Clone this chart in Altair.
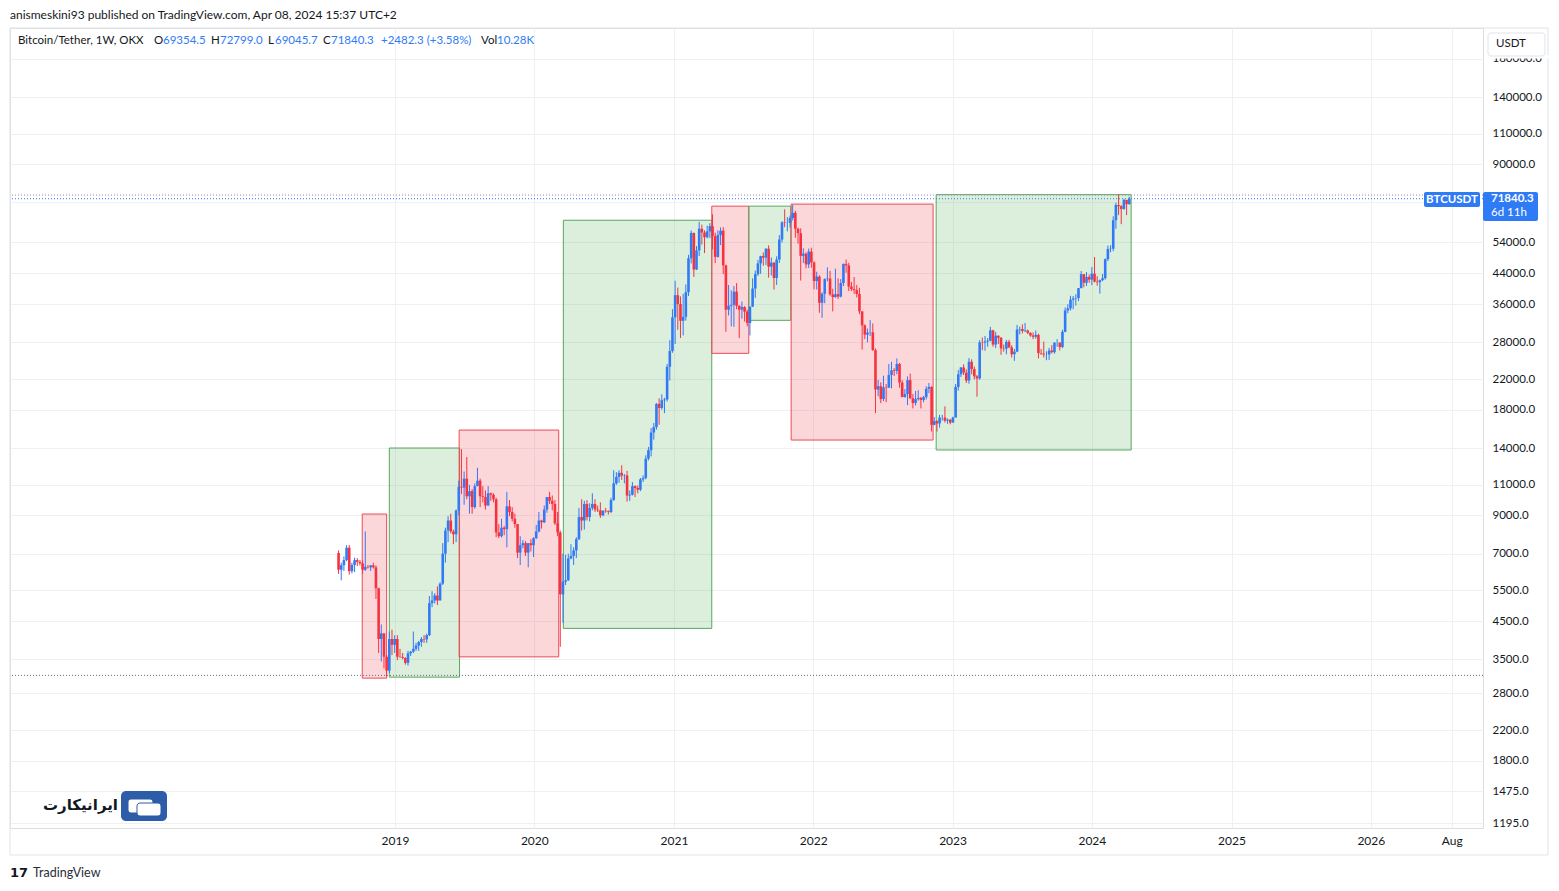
import altair as alt
import pandas as pd
import numpy as np

FONT = "Lato"
UP = "#3179f5"
DOWN = "#f7323f"
INK = "#131722"

# ---------------- weekly candles (Bitcoin/Tether, 1W, OKX) ----------------
first_week = "2018-08-06"
first_open = 7030

closes_2018 = [6300, 6490, 6710, 7280, 6240, 6500, 6710, 6630, 6570, 6300, 6420, 6400, 6480, 6400, 5580, 4000, 4150, 3560, 3250, 4000, 3850, 4000]
highs_2018 = [7150, 6600, 6880, 7400, 7410, 6600, 6820, 6800, 6720, 6700, 8100, 6500, 6500, 6600, 6480, 5600, 4400, 4150, 3600, 4200, 4250, 4100]
lows_2018 = [6130, 5880, 6250, 6660, 6100, 6150, 6200, 6450, 6480, 6130, 6250, 6350, 6250, 6350, 5200, 3650, 3450, 3300, 3130, 3200, 3600, 3650]

closes_2019 = [3560, 3550, 3530, 3420, 3640, 3680, 3750, 3830, 3920, 4000, 3990, 4100, 5060, 5150, 5320, 5150, 5750, 7000, 8150, 8700, 8100, 7950, 9300, 10850, 10800, 11450, 10200, 10550, 9500, 10900, 11300, 10200, 10150, 9600, 10400, 10300, 10000, 8050, 7850, 8300, 8220, 9550, 9200, 8800, 8500, 7050, 7400, 7500, 7050, 7500, 7400, 7750]
highs_2019 = [4100, 3750, 3650, 3550, 3700, 3700, 4200, 3900, 3950, 4050, 4100, 4140, 5300, 5470, 5400, 5650, 5800, 7500, 8300, 8950, 9100, 8200, 9350, 11300, 13900, 12000, 13200, 11000, 10700, 11100, 12300, 11450, 10900, 10600, 10900, 10450, 10400, 10100, 8500, 8800, 8400, 10500, 9950, 9500, 9100, 8500, 7850, 7650, 7600, 7500, 7700, 7800]
lows_2019 = [3480, 3540, 3500, 3380, 3360, 3580, 3650, 3700, 3700, 3800, 3900, 3900, 4080, 4930, 5050, 5000, 5150, 5700, 6600, 7550, 8000, 7450, 7550, 9000, 10350, 9650, 10000, 9100, 9100, 9400, 10900, 9500, 9800, 9350, 9600, 9900, 9800, 7800, 7750, 7780, 7900, 7300, 8950, 8650, 8300, 6800, 6500, 7250, 6900, 6400, 7100, 6850]

closes_2020 = [8100, 8700, 8600, 9350, 10150, 9900, 9700, 8550, 8050, 5360, 5820, 5880, 6780, 6900, 7150, 7700, 8900, 8700, 9700, 8900, 9450, 9700, 9350, 9300, 9000, 9280, 9250, 9200, 9950, 11100, 11580, 11900, 11680, 11700, 10250, 10300, 10900, 10770, 10650, 11400, 11500, 13050, 13800, 15500, 16050, 18700, 18200, 19150, 19250, 23850, 26450, 33000]
highs_2020 = [8450, 9200, 8750, 9600, 10150, 10500, 10250, 9950, 9200, 8150, 7000, 6950, 7000, 7450, 7300, 7800, 9450, 10000, 9900, 9950, 9750, 10400, 10000, 9600, 9800, 9300, 9450, 9300, 10100, 12100, 11950, 12100, 12500, 11800, 12050, 10600, 11200, 10950, 10950, 11500, 11700, 13350, 14100, 15950, 16500, 18800, 19400, 19900, 19450, 24300, 28400, 34800]
lows_2020 = [7700, 8050, 8250, 8550, 9150, 9700, 9300, 8450, 7850, 3800, 4450, 5700, 5850, 6750, 6500, 6800, 7650, 8150, 8200, 8700, 8650, 9300, 9200, 9200, 8850, 8950, 9150, 9050, 9130, 9900, 11000, 11150, 11350, 11100, 9850, 9900, 10250, 10150, 10400, 10550, 11200, 11400, 12900, 13250, 14800, 15800, 16300, 18000, 17600, 19000, 21800, 26150]

closes_2021 = [38150, 36000, 32250, 33100, 38900, 48600, 57400, 45150, 51200, 59000, 57550, 55800, 58000, 60000, 56200, 49050, 56600, 58250, 46400, 34700, 35600, 35800, 39050, 35600, 34700, 35300, 34250, 31800, 35400, 39850, 43800, 47000, 49300, 48800, 51750, 46000, 47250, 42700, 48200, 54950, 61500, 61300, 61300, 63300, 65500, 59000, 57300, 49400, 50100, 46700, 50800, 47300]
highs_2021 = [41950, 40100, 37850, 38500, 40950, 49700, 58300, 57500, 52650, 61700, 60600, 58400, 60200, 61200, 64850, 57500, 58400, 59500, 59600, 46600, 40800, 39400, 40500, 41300, 35700, 36600, 35500, 34700, 35400, 42600, 44800, 48100, 49400, 50500, 51900, 52900, 48850, 47350, 49250, 56600, 62000, 67000, 63700, 64300, 69000, 66400, 59400, 59150, 51900, 50500, 51800, 52100]
lows_2021 = [27700, 30400, 28800, 29300, 32300, 37950, 47000, 43000, 45000, 49300, 53200, 50300, 55400, 55500, 51500, 47100, 48800, 53000, 43800, 30000, 33400, 31100, 31000, 34800, 28800, 32700, 32100, 31100, 29300, 35300, 37500, 43300, 43900, 46300, 46500, 42800, 43400, 39600, 40800, 47100, 53900, 59600, 58000, 59500, 62300, 55600, 53500, 42000, 47100, 45500, 45600, 45700]

closes_2022 = [41850, 43100, 36300, 38500, 42400, 42550, 38350, 37700, 38400, 37800, 41300, 46850, 46400, 40400, 39700, 39450, 38450, 34300, 31300, 29450, 29850, 29900, 26600, 20550, 21000, 19300, 20850, 20800, 22600, 23300, 23200, 24300, 21500, 19550, 19950, 21850, 19400, 18800, 19300, 19450, 19200, 19550, 20650, 20900, 16300, 16700, 16450, 17100, 17100, 16750, 16850, 16550]
highs_2022 = [47600, 44500, 43500, 38900, 42600, 45800, 44750, 39800, 45400, 42600, 42400, 46950, 48200, 47200, 41600, 42980, 40800, 40050, 34400, 31500, 30650, 32400, 31700, 26900, 21900, 21550, 22500, 21300, 24300, 24650, 23650, 25200, 24450, 21850, 20600, 22400, 22800, 19950, 20350, 20450, 19550, 19700, 21000, 21450, 21000, 17150, 16800, 17400, 17400, 18400, 17000, 16950]
lows_2022 = [39650, 39600, 34000, 32900, 36200, 41800, 38000, 34300, 37500, 37200, 37600, 40500, 44200, 39200, 39200, 38500, 37600, 33700, 26700, 28600, 28000, 29200, 26500, 17600, 19650, 18800, 19050, 18900, 20750, 20700, 22450, 22700, 20800, 19550, 19500, 18550, 19300, 18150, 18500, 19100, 18150, 18900, 19250, 20050, 15600, 16250, 15600, 16000, 16750, 16550, 16400, 16350]

closes_2023 = [17100, 20900, 22700, 23750, 22950, 21800, 24650, 23500, 22400, 22100, 28000, 27950, 28150, 28300, 30300, 27600, 29250, 28850, 26900, 26850, 28100, 27100, 25900, 26350, 30450, 30550, 30150, 30250, 29800, 29300, 29050, 29400, 26100, 26000, 25850, 25850, 26550, 26250, 27950, 27950, 27150, 30000, 34500, 35000, 37050, 37350, 37450, 39950, 43800, 41400, 43000, 42250]
highs_2023 = [17200, 21300, 23350, 23800, 24250, 23450, 25250, 25050, 23900, 22600, 28400, 28900, 29200, 28800, 31000, 30400, 30000, 29300, 29000, 27600, 28450, 28450, 27450, 26800, 31400, 31050, 31500, 31800, 30450, 29900, 29900, 30250, 29650, 26800, 28150, 26400, 27000, 27500, 28000, 28600, 28000, 30400, 35200, 35950, 38000, 37950, 38400, 40000, 44700, 43800, 44400, 43700]
lows_2023 = [16500, 17100, 20400, 22300, 22600, 21450, 21350, 22700, 21950, 19600, 21900, 26600, 26500, 27200, 28200, 27200, 26950, 27700, 25800, 26350, 25900, 26950, 25350, 24800, 26250, 29500, 29700, 29950, 29550, 29050, 28600, 28700, 25200, 25800, 25350, 24900, 24950, 26050, 26000, 27200, 26550, 26950, 29900, 33900, 34500, 34800, 35650, 36700, 39950, 40200, 40550, 41400]

closes_2024 = [43950, 41700, 41550, 42100, 42650, 48300, 51650, 51750, 62400, 68950, 68400, 67200, 71300, 69354.5, 71840.3]
highs_2024 = [45900, 49000, 43200, 42250, 43850, 48550, 52800, 52950, 64000, 70000, 73800, 68900, 71800, 71300, 72799.0]
lows_2024 = [40750, 41500, 40600, 38550, 41850, 42250, 47700, 50550, 50900, 59000, 64500, 60800, 66800, 64500, 69045.7]

# ---------------- drawn rectangles and horizontal levels ----------------
box_kind = ["red", "green", "red", "green", "red", "green", "red", "green"]
box_start = ["2018-10-07", "2018-12-17", "2019-06-18", "2020-03-17", "2021-04-10", "2021-07-16", "2021-11-04", "2022-11-19"]
box_end = ["2018-12-10", "2019-06-19", "2020-03-05", "2021-04-10", "2021-07-16", "2021-11-03", "2022-11-11", "2024-04-13"]
box_low = [3094, 3114, 3557, 4288, 26050, 32350, 14750, 13820]
box_high = [9080, 14000, 15750, 62380, 68420, 68420, 69340, 73780]

level_value = [73600, 71840.3, 3150, 70000]
level_kind = ["ath", "last", "low", "grid"]

price_ticks = [1195, 1475, 1800, 2200, 2800, 3500, 4500, 5500, 7000, 9000, 11000, 14000,
               18000, 22000, 28000, 36000, 44000, 54000, 90000, 110000, 140000, 180000]
year_ticks = ["2019-01-01", "2020-01-01", "2021-01-01", "2022-01-01", "2023-01-01",
              "2024-01-01", "2025-01-01", "2026-01-01", "2026-08-01"]

# ---------------- tables ----------------
closes = closes_2018 + closes_2019 + closes_2020 + closes_2021 + closes_2022 + closes_2023 + closes_2024
highs = highs_2018 + highs_2019 + highs_2020 + highs_2021 + highs_2022 + highs_2023 + highs_2024
lows = lows_2018 + lows_2019 + lows_2020 + lows_2021 + lows_2022 + lows_2023 + lows_2024
opens = [first_open] + closes[:-1]
dates = pd.date_range(first_week, periods=len(closes), freq="7D").strftime("%Y-%m-%d")

candles = pd.DataFrame({"date": list(dates), "open": opens, "high": highs, "low": lows, "close": closes})
candles["high"] = candles[["high", "open", "close"]].max(axis=1)
candles["low"] = candles[["low", "open", "close"]].min(axis=1)

boxes = pd.DataFrame({"kind": box_kind, "start": box_start, "end": box_end, "low": box_low, "high": box_high})
levels = pd.DataFrame({"level": level_value, "kind": level_kind})


def ms(s):
    return int(pd.Timestamp(s, tz="UTC").value // 10**6)


W, H = 1473, 800
GRID = "#eef0f4"
xs = alt.Scale(type="utc", domain=[ms("2016-03-28"), ms("2026-10-22")], nice=False, padding=0)
ys = alt.Scale(type="log", domain=[1157.5, 220170], nice=False, padding=0)

xax = alt.Axis(values=[ms(d) for d in year_ticks],
               labelExpr="utcmonth(datum.value) == 7 ? 'Aug' : utcFormat(datum.value, '%Y')",
               title=None, grid=True, gridColor=GRID, ticks=False, domain=False,
               labelColor=INK, labelFont=FONT, labelFontSize=12, labelPadding=7,
               labelFlush=False, labelOverlap=False)
yax = alt.Axis(orient="right", values=price_ticks, labelExpr="format(datum.value, '.1f')",
               title=None, grid=True, gridColor=GRID, ticks=False, domain=False,
               labelColor=INK, labelFont=FONT, labelFontSize=11.5, labelPadding=9,
               labelFlush=False, labelOverlap=False, labelAlign="left")

box_layer = alt.Chart(boxes).mark_rect(fillOpacity=0.2, strokeWidth=1).encode(
    x=alt.X("start:T", scale=xs, axis=xax),
    x2="end:T",
    y=alt.Y("low:Q", scale=ys, axis=yax),
    y2="high:Q",
    fill=alt.condition("datum.kind == 'red'", alt.value("#f23645"), alt.value("#4caf50")),
    stroke=alt.condition("datum.kind == 'red'", alt.value("#ec4a55"), alt.value("#5aa75d")),
)


def level_rule(kind, color, dash):
    kw = dict(strokeWidth=1, color=color)
    if dash:
        kw["strokeDash"] = [1, 2]
    return alt.Chart(levels).transform_filter(f"datum.kind == '{kind}'").mark_rule(**kw).encode(
        y=alt.Y("level:Q", scale=ys, axis=yax))


grid_rule = level_rule("grid", GRID, False)
level_layers = [level_rule("ath", "#9b86b8", True), level_rule("last", "#3179f5", True),
                level_rule("low", "#6f6a86", True)]

color_cond = alt.condition("datum.close >= datum.open", alt.value(UP), alt.value(DOWN))

wick_layer = alt.Chart(candles).mark_rule(strokeWidth=1).encode(
    x=alt.X("date:T", scale=xs, axis=xax),
    y=alt.Y("low:Q", scale=ys, axis=yax),
    y2="high:Q",
    color=color_cond,
)
body_layer = alt.Chart(candles).mark_bar(size=2.6).encode(
    x=alt.X("date:T", scale=xs, axis=xax),
    y=alt.Y("open:Q", scale=ys, axis=yax),
    y2="close:Q",
    color=color_cond,
)

one = pd.DataFrame({"a": [0]})


def txt(s, x, y, color=INK, size=12, weight="normal", align="left", font=FONT):
    return alt.Chart(one).mark_text(text=s, align=align, baseline="middle", fontSize=size,
                                    fontWeight=weight, font=font, color=color).encode(
        x=alt.value(x), y=alt.value(y))


def box(x0, x1, y0, y1, fill, stroke=None, radius=0, opacity=1.0):
    kw = dict(fill=fill, cornerRadius=radius, fillOpacity=opacity)
    if stroke is not None:
        kw["stroke"] = stroke
        kw["strokeWidth"] = 1
    return alt.Chart(one).mark_rect(**kw).encode(
        x=alt.value(x0), x2=alt.value(x1), y=alt.value(y0), y2=alt.value(y1))


BLUE_TXT = "#2f7bf5"
LS = 11.5
decor = [
    box(0, 1538, 0, 827, "#ffffff", stroke="#e0e3eb", opacity=0),
    # header
    txt("anismeskini93 published on TradingView.com, Apr 08, 2024 15:37 UTC+2", 0, -13, size=12),
    txt("Bitcoin/Tether, 1W, OKX", 8, 13, size=LS),
    txt("O", 144, 13, size=LS), txt("69354.5", 153, 13, color=BLUE_TXT, size=LS),
    txt("H", 201, 13, size=LS), txt("72799.0", 210, 13, color=BLUE_TXT, size=LS),
    txt("L", 258, 13, size=LS), txt("69045.7", 265, 13, color=BLUE_TXT, size=LS),
    txt("C", 313, 13, size=LS), txt("71840.3", 321, 13, color=BLUE_TXT, size=LS),
    txt("+2482.3 (+3.58%)", 371, 13, color=BLUE_TXT, size=LS),
    txt("Vol", 471, 13, size=LS), txt("10.28K", 487, 13, color=BLUE_TXT, size=LS),
    # price scale currency box (covers the top of the highest price label)
    box(1478, 1540, 27, 30.5, "#ffffff"),
    box(1478, 1535, 5, 28, "#ffffff", stroke="#e0e3eb", radius=3),
    txt("USDT", 1486, 16, size=11.5),
    # last price labels
    box(1414, 1470, 164, 179, "#2f7bf5", radius=2),
    txt("BTCUSDT", 1442, 171.5, color="#ffffff", size=11.5, weight="bold", align="center"),
    box(1473, 1528, 164, 193, "#2f7bf5", radius=2),
    txt("71840.3", 1481, 171, color="#ffffff", size=11.5, weight="bold"),
    txt("6d 11h", 1481, 185, color="#ffffff", size=11.5),
    # watermark logo
    box(111, 157, 763, 793, "#2d5ca8", radius=5),
    box(118, 143, 771, 785, "#ffffff", stroke="#2d5ca8", radius=3),
    box(127, 151, 775, 788, "#ffffff", stroke="#2d5ca8", radius=3),
    txt("ایرانیکارت", 108, 777, size=15, weight="bold", align="right", font="DejaVu Sans"),
    # footer
    txt("17", 0, 845, size=13, weight="bold", font="DejaVu Sans"),
    txt("TradingView", 23, 845, size=12.5, color="#2a2e39"),
]

chart = alt.layer(grid_rule, box_layer, *level_layers, wick_layer, body_layer, *decor).properties(
    width=W, height=H,
    autosize=alt.AutoSizeParams(type="none"),
    padding={"left": 2, "top": 20, "right": 68, "bottom": 55},
).configure_view(stroke=None).configure(background="#ffffff")

chart.save("out.html", embed_options={"renderer": "svg", "actions": False})
